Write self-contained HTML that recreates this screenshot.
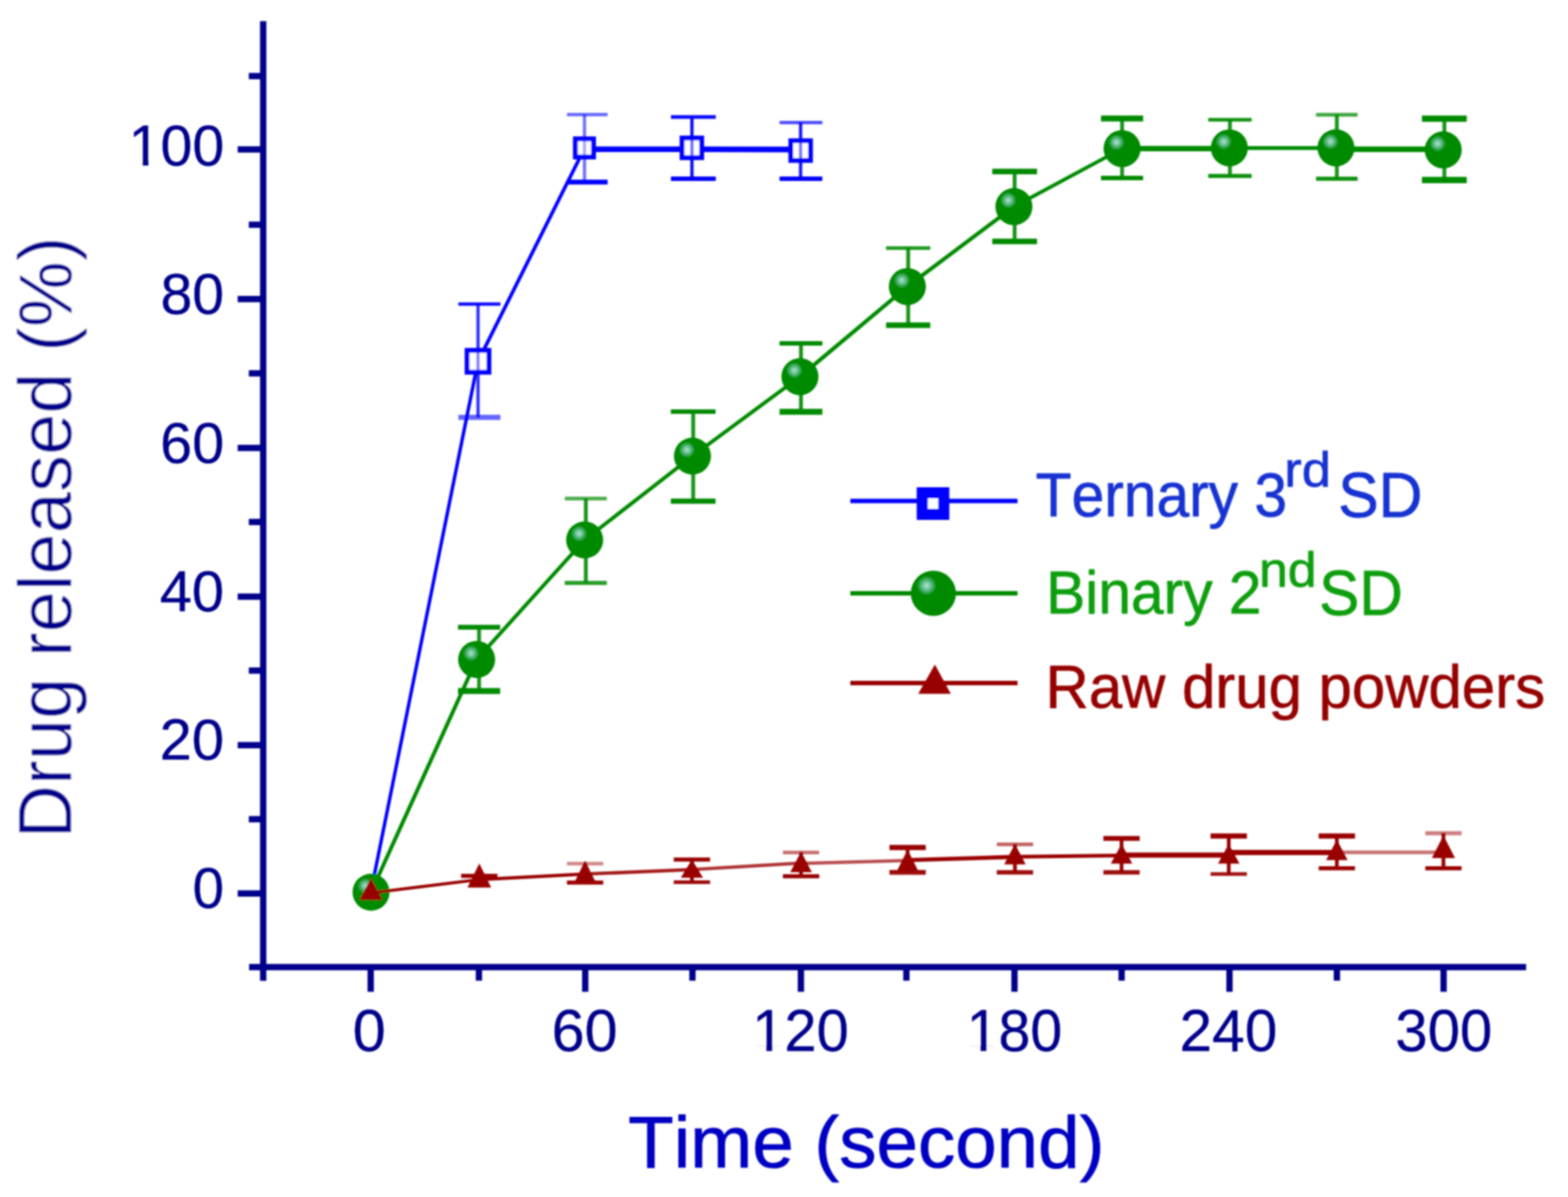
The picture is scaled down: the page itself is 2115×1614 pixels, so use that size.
<!DOCTYPE html>
<html lang="en"><head><meta charset="utf-8"><title>Drug released (%) vs Time (second)</title>
<style>html,body{margin:0;padding:0;background:#fff;}body{width:2115px;height:1614px;}svg{display:block;}text{font-family:"Liberation Sans", Arial, sans-serif;font-kerning:none;stroke-linejoin:round;white-space:pre;}</style>
</head><body>
<svg width="2115" height="1614" viewBox="0 0 2115 1614" role="img" aria-label="Drug released (%) versus time (second) for Ternary 3rd SD, Binary 2nd SD and raw drug powders">
<defs>
<radialGradient id="ball" cx="0.35" cy="0.33" r="0.22" fx="0.35" fy="0.33"><stop offset="0" stop-color="#b4e4cc"/><stop offset="0.45" stop-color="#62bf90"/><stop offset="1" stop-color="#008a00"/></radialGradient>
<filter id="soft" x="-2%" y="-2%" width="104%" height="104%"><feGaussianBlur stdDeviation="1.3"/></filter>
</defs>
<rect x="0" y="0" width="2115" height="1614" fill="#ffffff"/>
<g filter="url(#soft)">
<g stroke="#00008b" stroke-width="8.5" fill="none" stroke-linecap="butt">
<line x1="355.0" y1="28.5" x2="355.0" y2="1322.5"/>
<line x1="336" y1="1304.1" x2="2058.5" y2="1304.1"/>
<line x1="320.6" y1="1204.8" x2="355.0" y2="1204.8"/>
<line x1="320.6" y1="1004.8" x2="355.0" y2="1004.8"/>
<line x1="320.6" y1="804.4" x2="355.0" y2="804.4"/>
<line x1="320.6" y1="604.0" x2="355.0" y2="604.0"/>
<line x1="320.6" y1="403.2" x2="355.0" y2="403.2"/>
<line x1="320.6" y1="201.5" x2="355.0" y2="201.5"/>
<line x1="335.6" y1="1104.6" x2="355.0" y2="1104.6"/>
<line x1="335.6" y1="904.2" x2="355.0" y2="904.2"/>
<line x1="335.6" y1="703.8" x2="355.0" y2="703.8"/>
<line x1="335.6" y1="503.4" x2="355.0" y2="503.4"/>
<line x1="335.6" y1="303.0" x2="355.0" y2="303.0"/>
<line x1="335.6" y1="102.6" x2="355.0" y2="102.6"/>
<line x1="500.0" y1="1304.1" x2="500.0" y2="1337.3"/>
<line x1="789.4" y1="1304.1" x2="789.4" y2="1337.3"/>
<line x1="1080.3" y1="1304.1" x2="1080.3" y2="1337.3"/>
<line x1="1368.4" y1="1304.1" x2="1368.4" y2="1337.3"/>
<line x1="1658.4" y1="1304.1" x2="1658.4" y2="1337.3"/>
<line x1="1947.2" y1="1304.1" x2="1947.2" y2="1337.3"/>
<line x1="646.0" y1="1304.1" x2="646.0" y2="1322.3"/>
<line x1="934.0" y1="1304.1" x2="934.0" y2="1322.3"/>
<line x1="1222.6" y1="1304.1" x2="1222.6" y2="1322.3"/>
<line x1="1512.9" y1="1304.1" x2="1512.9" y2="1322.3"/>
<line x1="1803.3" y1="1304.1" x2="1803.3" y2="1322.3"/>
</g>
<g>
<text transform="translate(259.82 1224.14) scale(0.9829 1)" font-size="77.68px" fill="#00008b" stroke="#00008b" stroke-width="0.40">0</text>
<text transform="translate(215.26 1023.74) scale(1.0080 1)" font-size="77.68px" fill="#00008b" stroke="#00008b" stroke-width="0.40">20</text>
<text transform="translate(215.41 824.04) scale(1.0063 1)" font-size="77.68px" fill="#00008b" stroke="#00008b" stroke-width="0.40">40</text>
<text transform="translate(216.06 623.64) scale(0.9984 1)" font-size="77.68px" fill="#00008b" stroke="#00008b" stroke-width="0.40">60</text>
<text transform="translate(216.45 423.34) scale(0.9938 1)" font-size="77.68px" fill="#00008b" stroke="#00008b" stroke-width="0.40">80</text>
<clipPath id="one1" clipPathUnits="userSpaceOnUse"><rect x="3.79" y="-56.90" width="34.14" height="50.09"/><rect x="19.13" y="-7.20" width="7.67" height="7.60"/></clipPath>
<g transform="translate(173.58 223.34) scale(0.9933 1)" font-size="77.68px" fill="#00008b" stroke="#00008b" stroke-width="0.40"><text clip-path="url(#one1)">1</text><text x="43.20">00</text></g>
<text transform="translate(475.77 1417.42) scale(1.0058 1)" font-size="79.66px" fill="#00008b" stroke="#00008b" stroke-width="0.40">0</text>
<text transform="translate(743.93 1417.42) scale(1.0068 1)" font-size="79.66px" fill="#00008b" stroke="#00008b" stroke-width="0.40">60</text>
<clipPath id="one2" clipPathUnits="userSpaceOnUse"><rect x="3.89" y="-58.34" width="35.01" height="51.39"/><rect x="19.63" y="-7.35" width="7.84" height="7.75"/></clipPath>
<g transform="translate(1014.48 1417.42) scale(0.9809 1)" font-size="79.66px" fill="#00008b" stroke="#00008b" stroke-width="0.40"><text clip-path="url(#one2)">1</text><text x="44.30">20</text></g>
<clipPath id="one3" clipPathUnits="userSpaceOnUse"><rect x="3.89" y="-58.34" width="35.01" height="51.39"/><rect x="19.63" y="-7.35" width="7.84" height="7.75"/></clipPath>
<g transform="translate(1303.65 1417.42) scale(0.9719 1)" font-size="79.66px" fill="#00008b" stroke="#00008b" stroke-width="0.40"><text clip-path="url(#one3)">1</text><text x="44.30">80</text></g>
<text transform="translate(1591.02 1417.42) scale(0.9929 1)" font-size="79.66px" fill="#00008b" stroke="#00008b" stroke-width="0.40">240</text>
<text transform="translate(1882.12 1417.42) scale(0.9837 1)" font-size="79.66px" fill="#00008b" stroke="#00008b" stroke-width="0.40">300</text>
</g>
<text transform="translate(847.24 1573.72) scale(1.0315 1)" font-size="97.46px" fill="#0000c4" stroke="#0000c4" stroke-width="1.00">Time (second)</text>
<text transform="translate(96.26 1130.66) rotate(-90) scale(0.9892 1)" font-size="101.17px" fill="#00008b" stroke="#ffffff" stroke-width="0.90">Drug released (%)</text>
<g fill="none">
<line x1="500.0" y1="1204.0" x2="644.8" y2="487.1" stroke="#0000ff" stroke-width="4.6" stroke-opacity="1.00"/>
<line x1="644.8" y1="487.1" x2="788.4" y2="200.0" stroke="#0000ff" stroke-width="4.8" stroke-opacity="1.00"/>
<polyline stroke="#0000ff" stroke-width="7.6" points="788.4,201.2 933.3,201.2 1079.9,201.6"/>
<rect x="630.0" y="472.4" width="29.5" height="29.5" stroke="#0000ff" stroke-width="6.5" fill="#ffffff"/>
<rect x="776.1" y="187.2" width="24.5" height="24.5" stroke="#0000ff" stroke-width="6.5" fill="#ffffff"/>
<rect x="920.0" y="186.1" width="26.5" height="26.5" stroke="#0000ff" stroke-width="6.5" fill="#ffffff"/>
<rect x="1066.7" y="189.8" width="26.5" height="26.5" stroke="#0000ff" stroke-width="6.5" fill="#ffffff"/>
<line x1="644.8" y1="410.1" x2="644.8" y2="470.1" stroke="#0000ff" stroke-width="4.5" stroke-opacity="0.80"/>
<line x1="644.8" y1="504.1" x2="644.8" y2="562.8" stroke="#0000ff" stroke-width="4.5" stroke-opacity="0.80"/>
<line x1="644.8" y1="475.1" x2="644.8" y2="499.1" stroke="#0000ff" stroke-width="4.5" stroke-opacity="0.48"/>
<line x1="618.3" y1="410.1" x2="675.0" y2="410.1" stroke="#0000ff" stroke-width="4.5" stroke-opacity="0.95"/>
<line x1="618.3" y1="562.8" x2="675.0" y2="562.8" stroke="#0000ff" stroke-width="7.0" stroke-opacity="0.60"/>
<line x1="788.4" y1="154.5" x2="788.4" y2="185.0" stroke="#0000ff" stroke-width="4.5" stroke-opacity="0.55"/>
<line x1="788.4" y1="214.0" x2="788.4" y2="245.6" stroke="#0000ff" stroke-width="4.5" stroke-opacity="0.55"/>
<line x1="788.4" y1="190.0" x2="788.4" y2="209.0" stroke="#0000ff" stroke-width="4.5" stroke-opacity="0.33"/>
<line x1="764.8" y1="154.5" x2="819.6" y2="154.5" stroke="#0000ff" stroke-width="4.5" stroke-opacity="0.60"/>
<line x1="764.8" y1="245.6" x2="819.6" y2="245.6" stroke="#0000ff" stroke-width="6.5" stroke-opacity="1.00"/>
<line x1="933.3" y1="157.7" x2="933.3" y2="183.8" stroke="#0000ff" stroke-width="4.5" stroke-opacity="0.95"/>
<line x1="933.3" y1="214.8" x2="933.3" y2="240.9" stroke="#0000ff" stroke-width="4.5" stroke-opacity="0.95"/>
<line x1="933.3" y1="188.8" x2="933.3" y2="209.8" stroke="#0000ff" stroke-width="4.5" stroke-opacity="0.57"/>
<line x1="905.0" y1="157.7" x2="965.5" y2="157.7" stroke="#0000ff" stroke-width="5.0" stroke-opacity="0.95"/>
<line x1="905.0" y1="240.9" x2="965.5" y2="240.9" stroke="#0000ff" stroke-width="6.0" stroke-opacity="1.00"/>
<line x1="1079.9" y1="165.2" x2="1079.9" y2="187.5" stroke="#0000ff" stroke-width="4.5" stroke-opacity="0.90"/>
<line x1="1079.9" y1="218.5" x2="1079.9" y2="240.9" stroke="#0000ff" stroke-width="4.5" stroke-opacity="0.90"/>
<line x1="1079.9" y1="192.5" x2="1079.9" y2="213.5" stroke="#0000ff" stroke-width="4.5" stroke-opacity="0.54"/>
<line x1="1051.5" y1="165.2" x2="1109.2" y2="165.2" stroke="#0000ff" stroke-width="4.5" stroke-opacity="0.70"/>
<line x1="1051.5" y1="240.9" x2="1109.2" y2="240.9" stroke="#0000ff" stroke-width="6.0" stroke-opacity="1.00"/>
</g>
<g fill="none">
<line x1="500.5" y1="1203.0" x2="642.9" y2="889.2" stroke="#008a00" stroke-width="5.2" stroke-opacity="1.00"/>
<line x1="642.9" y1="889.2" x2="788.6" y2="728.0" stroke="#008a00" stroke-width="5.0" stroke-opacity="1.00"/>
<line x1="788.6" y1="728.0" x2="934.0" y2="615.0" stroke="#008a00" stroke-width="5.0" stroke-opacity="1.00"/>
<line x1="934.0" y1="615.0" x2="1079.0" y2="507.9" stroke="#008a00" stroke-width="5.0" stroke-opacity="1.00"/>
<line x1="1079.0" y1="507.9" x2="1223.9" y2="386.4" stroke="#008a00" stroke-width="5.2" stroke-opacity="1.00"/>
<line x1="1223.9" y1="386.4" x2="1367.6" y2="278.6" stroke="#008a00" stroke-width="5.2" stroke-opacity="1.00"/>
<line x1="1367.6" y1="278.6" x2="1513.5" y2="200.4" stroke="#008a00" stroke-width="5.0" stroke-opacity="1.00"/>
<line x1="1513.5" y1="200.4" x2="1658.2" y2="200.4" stroke="#008a00" stroke-width="7.4" stroke-opacity="1.00"/>
<line x1="1658.2" y1="199.6" x2="1802.0" y2="199.6" stroke="#008a00" stroke-width="5.2" stroke-opacity="1.00"/>
<line x1="1802.0" y1="201.2" x2="1946.7" y2="201.2" stroke="#008a00" stroke-width="7.4" stroke-opacity="1.00"/>
<line x1="646.2" y1="845.7" x2="646.2" y2="931.8" stroke="#008a00" stroke-width="5.2" stroke-opacity="0.90"/>
<line x1="617.8" y1="845.7" x2="674.6" y2="845.7" stroke="#008a00" stroke-width="6.5" stroke-opacity="1.00"/>
<line x1="617.8" y1="931.8" x2="674.6" y2="931.8" stroke="#008a00" stroke-width="8.0" stroke-opacity="1.00"/>
<line x1="790.2" y1="672.3" x2="790.2" y2="786.0" stroke="#008a00" stroke-width="5.2" stroke-opacity="0.90"/>
<line x1="761.8" y1="672.3" x2="818.6" y2="672.3" stroke="#008a00" stroke-width="5.0" stroke-opacity="0.70"/>
<line x1="761.8" y1="786.0" x2="818.6" y2="786.0" stroke="#008a00" stroke-width="5.5" stroke-opacity="0.85"/>
<line x1="935.0" y1="555.0" x2="935.0" y2="675.8" stroke="#008a00" stroke-width="5.2" stroke-opacity="0.90"/>
<line x1="904.8" y1="555.0" x2="965.2" y2="555.0" stroke="#008a00" stroke-width="6.0" stroke-opacity="1.00"/>
<line x1="904.8" y1="675.8" x2="965.2" y2="675.8" stroke="#008a00" stroke-width="7.0" stroke-opacity="1.00"/>
<line x1="1080.4" y1="462.9" x2="1080.4" y2="555.2" stroke="#008a00" stroke-width="5.2" stroke-opacity="0.90"/>
<line x1="1051.5" y1="462.9" x2="1109.3" y2="462.9" stroke="#008a00" stroke-width="6.0" stroke-opacity="1.00"/>
<line x1="1051.5" y1="555.2" x2="1109.3" y2="555.2" stroke="#008a00" stroke-width="8.0" stroke-opacity="1.00"/>
<line x1="1225.0" y1="334.4" x2="1225.0" y2="438.4" stroke="#008a00" stroke-width="5.2" stroke-opacity="0.90"/>
<line x1="1195.2" y1="334.4" x2="1254.8" y2="334.4" stroke="#008a00" stroke-width="5.0" stroke-opacity="0.85"/>
<line x1="1195.2" y1="438.4" x2="1254.8" y2="438.4" stroke="#008a00" stroke-width="7.5" stroke-opacity="1.00"/>
<line x1="1368.6" y1="231.3" x2="1368.6" y2="325.5" stroke="#008a00" stroke-width="5.2" stroke-opacity="0.90"/>
<line x1="1338.4" y1="231.3" x2="1398.8" y2="231.3" stroke="#008a00" stroke-width="7.5" stroke-opacity="1.00"/>
<line x1="1338.4" y1="325.5" x2="1398.8" y2="325.5" stroke="#008a00" stroke-width="7.5" stroke-opacity="1.00"/>
<line x1="1513.5" y1="159.7" x2="1513.5" y2="240.1" stroke="#008a00" stroke-width="5.2" stroke-opacity="0.90"/>
<line x1="1485.1" y1="159.7" x2="1541.9" y2="159.7" stroke="#008a00" stroke-width="8.0" stroke-opacity="1.00"/>
<line x1="1485.1" y1="240.1" x2="1541.9" y2="240.1" stroke="#008a00" stroke-width="6.0" stroke-opacity="1.00"/>
<line x1="1659.0" y1="161.6" x2="1659.0" y2="237.2" stroke="#008a00" stroke-width="5.2" stroke-opacity="0.90"/>
<line x1="1629.7" y1="161.6" x2="1688.3" y2="161.6" stroke="#008a00" stroke-width="5.0" stroke-opacity="0.90"/>
<line x1="1629.7" y1="237.2" x2="1688.3" y2="237.2" stroke="#008a00" stroke-width="5.5" stroke-opacity="0.95"/>
<line x1="1803.2" y1="154.8" x2="1803.2" y2="240.9" stroke="#008a00" stroke-width="5.2" stroke-opacity="0.90"/>
<line x1="1775.2" y1="154.8" x2="1831.2" y2="154.8" stroke="#008a00" stroke-width="5.0" stroke-opacity="0.75"/>
<line x1="1775.2" y1="240.9" x2="1831.2" y2="240.9" stroke="#008a00" stroke-width="5.5" stroke-opacity="0.95"/>
<line x1="1948.2" y1="160.1" x2="1948.2" y2="242.8" stroke="#008a00" stroke-width="5.2" stroke-opacity="0.90"/>
<line x1="1918.0" y1="160.1" x2="1978.4" y2="160.1" stroke="#008a00" stroke-width="8.5" stroke-opacity="1.00"/>
<line x1="1918.0" y1="242.8" x2="1978.4" y2="242.8" stroke="#008a00" stroke-width="8.5" stroke-opacity="1.00"/>
</g>
<g fill="url(#ball)">
<circle cx="500.5" cy="1203.0" r="25"/>
<circle cx="642.9" cy="889.2" r="25"/>
<circle cx="788.6" cy="728.0" r="25"/>
<circle cx="934.0" cy="615.0" r="25"/>
<circle cx="1079.0" cy="507.9" r="25"/>
<circle cx="1223.9" cy="386.4" r="25"/>
<circle cx="1367.6" cy="278.6" r="25"/>
<circle cx="1513.5" cy="200.4" r="25"/>
<circle cx="1658.2" cy="199.4" r="25"/>
<circle cx="1802.0" cy="199.3" r="25"/>
<circle cx="1946.7" cy="202.1" r="25"/>
</g>
<g fill="none">
<line x1="500.3" y1="1204.0" x2="646.5" y2="1186.0" stroke="#990000" stroke-width="4.2" stroke-opacity="1.00"/>
<line x1="646.5" y1="1186.0" x2="789.2" y2="1178.6" stroke="#990000" stroke-width="4.5" stroke-opacity="1.00"/>
<line x1="789.2" y1="1178.6" x2="933.3" y2="1172.5" stroke="#990000" stroke-width="4.5" stroke-opacity="0.90"/>
<line x1="933.3" y1="1172.5" x2="1080.5" y2="1163.6" stroke="#990000" stroke-width="4.5" stroke-opacity="0.80"/>
<line x1="1080.5" y1="1164.2" x2="1224.2" y2="1160.2" stroke="#990000" stroke-width="4.6" stroke-opacity="0.70"/>
<line x1="1224.2" y1="1159.8" x2="1369.0" y2="1155.4" stroke="#990000" stroke-width="5.6" stroke-opacity="1.00"/>
<line x1="1369.0" y1="1155.2" x2="1512.8" y2="1153.4" stroke="#990000" stroke-width="5.0" stroke-opacity="1.00"/>
<line x1="1512.8" y1="1153.0" x2="1657.4" y2="1153.0" stroke="#990000" stroke-width="7.0" stroke-opacity="1.00"/>
<line x1="1657.4" y1="1149.6" x2="1803.2" y2="1149.4" stroke="#990000" stroke-width="7.0" stroke-opacity="1.00"/>
<line x1="1803.2" y1="1149.3" x2="1947.0" y2="1149.3" stroke="#990000" stroke-width="5.0" stroke-opacity="0.55"/>
<line x1="646.5" y1="1181.0" x2="646.5" y2="1195.6" stroke="#990000" stroke-width="5.0" stroke-opacity="1.00"/>
<line x1="622.0" y1="1181.0" x2="671.0" y2="1181.0" stroke="#990000" stroke-width="5.5" stroke-opacity="1.00"/>
<line x1="789.2" y1="1164.4" x2="789.2" y2="1190.0" stroke="#990000" stroke-width="5.0" stroke-opacity="1.00"/>
<line x1="764.7" y1="1164.4" x2="813.7" y2="1164.4" stroke="#990000" stroke-width="5.0" stroke-opacity="0.45"/>
<line x1="764.7" y1="1190.0" x2="813.7" y2="1190.0" stroke="#990000" stroke-width="5.5" stroke-opacity="1.00"/>
<line x1="933.3" y1="1159.1" x2="933.3" y2="1189.4" stroke="#990000" stroke-width="5.0" stroke-opacity="1.00"/>
<line x1="908.8" y1="1159.1" x2="957.8" y2="1159.1" stroke="#990000" stroke-width="5.5" stroke-opacity="1.00"/>
<line x1="908.8" y1="1189.4" x2="957.8" y2="1189.4" stroke="#990000" stroke-width="5.0" stroke-opacity="0.95"/>
<line x1="1080.5" y1="1149.5" x2="1080.5" y2="1181.4" stroke="#990000" stroke-width="5.0" stroke-opacity="1.00"/>
<line x1="1056.0" y1="1149.5" x2="1105.0" y2="1149.5" stroke="#990000" stroke-width="5.0" stroke-opacity="0.55"/>
<line x1="1056.0" y1="1181.4" x2="1105.0" y2="1181.4" stroke="#990000" stroke-width="5.5" stroke-opacity="1.00"/>
<line x1="1224.2" y1="1142.7" x2="1224.2" y2="1176.3" stroke="#990000" stroke-width="5.0" stroke-opacity="1.00"/>
<line x1="1199.7" y1="1142.7" x2="1248.7" y2="1142.7" stroke="#990000" stroke-width="7.0" stroke-opacity="1.00"/>
<line x1="1199.7" y1="1176.3" x2="1248.7" y2="1176.3" stroke="#990000" stroke-width="6.5" stroke-opacity="0.95"/>
<line x1="1369.0" y1="1138.5" x2="1369.0" y2="1176.3" stroke="#990000" stroke-width="5.0" stroke-opacity="1.00"/>
<line x1="1344.5" y1="1138.5" x2="1393.5" y2="1138.5" stroke="#990000" stroke-width="5.0" stroke-opacity="0.60"/>
<line x1="1344.5" y1="1176.3" x2="1393.5" y2="1176.3" stroke="#990000" stroke-width="6.0" stroke-opacity="0.95"/>
<line x1="1512.8" y1="1130.4" x2="1512.8" y2="1176.3" stroke="#990000" stroke-width="5.0" stroke-opacity="1.00"/>
<line x1="1488.3" y1="1130.4" x2="1537.3" y2="1130.4" stroke="#990000" stroke-width="6.5" stroke-opacity="1.00"/>
<line x1="1488.3" y1="1176.3" x2="1537.3" y2="1176.3" stroke="#990000" stroke-width="6.0" stroke-opacity="0.95"/>
<line x1="1657.4" y1="1127.2" x2="1657.4" y2="1178.6" stroke="#990000" stroke-width="5.0" stroke-opacity="1.00"/>
<line x1="1632.9" y1="1127.2" x2="1681.9" y2="1127.2" stroke="#990000" stroke-width="7.0" stroke-opacity="1.00"/>
<line x1="1632.9" y1="1178.6" x2="1681.9" y2="1178.6" stroke="#990000" stroke-width="5.0" stroke-opacity="0.90"/>
<line x1="1803.2" y1="1127.2" x2="1803.2" y2="1170.7" stroke="#990000" stroke-width="5.0" stroke-opacity="1.00"/>
<line x1="1778.7" y1="1127.2" x2="1827.7" y2="1127.2" stroke="#990000" stroke-width="7.0" stroke-opacity="1.00"/>
<line x1="1778.7" y1="1170.7" x2="1827.7" y2="1170.7" stroke="#990000" stroke-width="5.5" stroke-opacity="1.00"/>
<line x1="1947.0" y1="1123.4" x2="1947.0" y2="1170.7" stroke="#990000" stroke-width="5.0" stroke-opacity="1.00"/>
<line x1="1922.5" y1="1123.4" x2="1971.5" y2="1123.4" stroke="#990000" stroke-width="5.5" stroke-opacity="0.50"/>
<line x1="1922.5" y1="1170.7" x2="1971.5" y2="1170.7" stroke="#990000" stroke-width="5.5" stroke-opacity="1.00"/>
</g>
<g fill="#990000">
<polygon points="500.3,1184.0 484.7,1213.5 515.9,1213.5"/>
<polygon points="646.5,1164.3 630.5,1196.8 662.5,1196.8"/>
<polygon points="789.2,1160.6 774.7,1190.0 803.7,1190.0"/>
<polygon points="933.3,1159.0 918.3,1183.5 948.3,1183.5"/>
<polygon points="1080.5,1148.3 1066.0,1176.0 1095.0,1176.0"/>
<polygon points="1224.2,1145.5 1209.7,1174.8 1238.7,1174.8"/>
<polygon points="1369.0,1138.0 1354.5,1165.4 1383.5,1165.4"/>
<polygon points="1512.8,1138.0 1498.3,1164.4 1527.3,1164.4"/>
<polygon points="1657.4,1138.0 1642.9,1164.4 1671.9,1164.4"/>
<polygon points="1803.2,1132.2 1788.7,1159.7 1817.7,1159.7"/>
<polygon points="1947.0,1126.5 1931.4,1156.9 1962.6,1156.9"/>
</g>
<g fill="none">
<line x1="1147" y1="675.5" x2="1372.5" y2="675.5" stroke="#0000ff" stroke-width="6.2"/>
<rect x="1244" y="664.5" width="29" height="29" stroke="#0000ff" stroke-width="15" fill="#fff"/>
<line x1="1147" y1="800" x2="1372.5" y2="800" stroke="#008a00" stroke-width="6.0"/>
<circle cx="1259" cy="800" r="30.5" fill="url(#ball)"/>
<line x1="1147" y1="921" x2="1372.5" y2="921" stroke="#990000" stroke-width="6.2"/>
<polygon points="1261,896 1238.5,935.5 1282.5,935.5" fill="#990000"/>
</g>
<text transform="translate(1397.07 695.61) scale(0.9478 1)" font-size="83.58px" fill="#1432d2" stroke="#1432d2" stroke-width="0.90">Ternary 3</text>
<text transform="translate(1732.35 656.10) scale(1.0701 1)" font-size="66.18px" fill="#1432d2" stroke="#1432d2" stroke-width="0.90">rd</text>
<text transform="translate(1804.93 696.52) scale(0.9654 1)" font-size="84.89px" fill="#1432d2" stroke="#1432d2" stroke-width="0.90">SD</text>
<text transform="translate(1410.95 827.44) scale(0.9671 1)" font-size="81.96px" fill="#0a9e0a" stroke="#0a9e0a" stroke-width="0.90">Binary 2</text>
<text transform="translate(1698.21 791.11) scale(1.0584 1)" font-size="66.04px" fill="#0a9e0a" stroke="#0a9e0a" stroke-width="0.90">nd</text>
<text transform="translate(1779.36 828.72) scale(0.9581 1)" font-size="84.89px" fill="#0a9e0a" stroke="#0a9e0a" stroke-width="0.90">SD</text>
<text transform="translate(1410.32 954.41) scale(0.9900 1)" font-size="81.64px" fill="#960000" stroke="#960000" stroke-width="0.90">Raw drug powders</text>
</g>
</svg>
</body></html>
